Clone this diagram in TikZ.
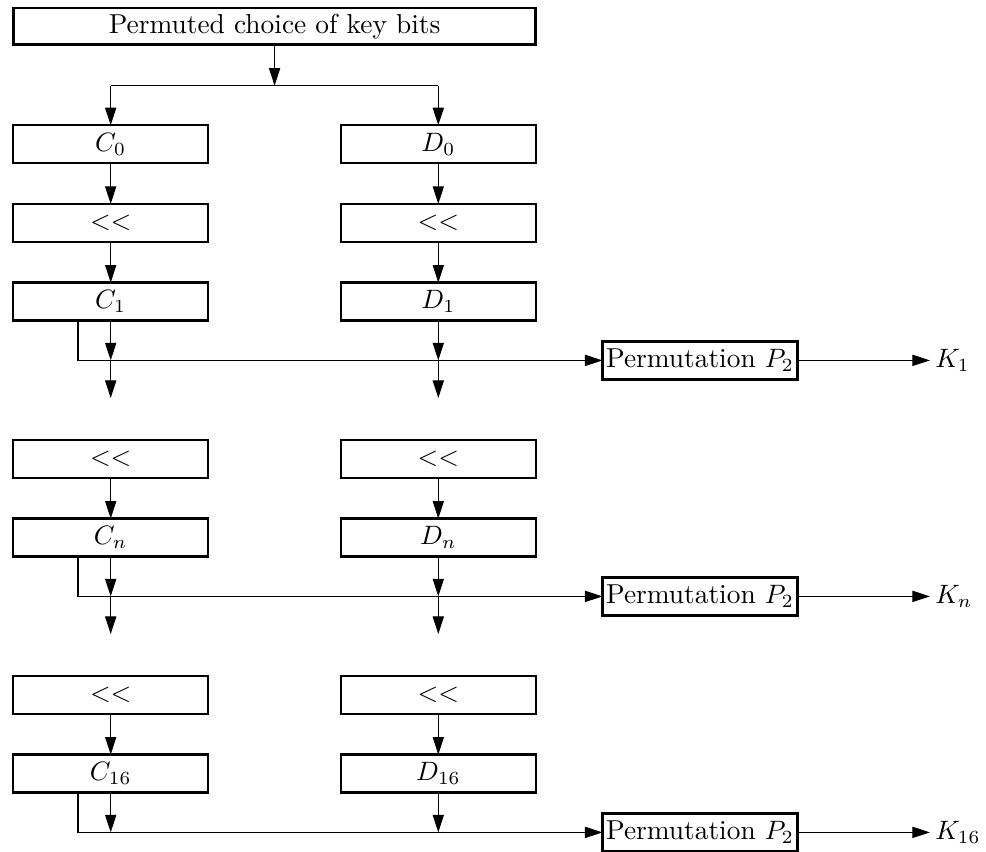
\documentclass[tikz,border=0pt]{standalone}
\usetikzlibrary{arrows.meta}
\begin{document}
\begin{tikzpicture}[x=0.376pt, y=-0.376pt,
  every node/.style={font=\fontsize{10.3pt}{12pt}\selectfont},
  blk/.style={draw, line width=0.9pt, inner sep=0pt, outer sep=0pt,
              minimum width=73.3pt, minimum height=14.3pt},
  arr/.style={line width=0.4pt, -{Triangle[length=6.6pt,width=4.2pt]}},
  lnk/.style={line width=0.4pt},
  klabel/.style={anchor=west, inner xsep=2pt, inner ysep=0pt, outer sep=0pt}]
\useasboundingbox (0,0) rectangle (986,852);

% key permutation and split into the two halves
\node[blk, minimum width=196.3pt, minimum height=13.9pt] (top) at (274.6,26.2) {Permuted choice of key bits};
\coordinate (split) at (274.6,85.7);
\coordinate (sL) at (110.7,85.7);
\coordinate (sR) at (438.3,85.7);
\node[blk] (C0) at (110.7,144.2) {$C_0$};
\node[blk] (D0) at (438.3,144.2) {$D_0$};
\draw[arr] (top) -- (split);
\draw[lnk] (sL) -- (sR);
\draw[arr] (sL) -- (C0);
\draw[arr] (sR) -- (D0);

% rounds: shift, new halves, permutation P2 giving the subkey
\foreach \g/\s/\dy in {1/1/0, 2/n/236, 3/16/472} {
  \node[blk] (SL\g) at (110.7,222.9+\dy) {$<<$};
  \node[blk] (SR\g) at (438.3,222.9+\dy) {$<<$};
  \node[blk] (C\g) at (110.7,301.6+\dy) {$C_{\s}$};
  \node[blk] (D\g) at (438.3,301.6+\dy) {$D_{\s}$};
  \node[blk] (P\g) at (700,360.4+\dy) {Permutation $P_2$};
  \node[klabel] (K\g) at (930,360.4+\dy) {$K_{\s}$};
  \coordinate (b\g) at (78,360.4+\dy);
  \coordinate (jL\g) at (110.7,360.4+\dy);
  \coordinate (jR\g) at (438.3,360.4+\dy);
  \draw[arr] (SL\g) -- (C\g);
  \draw[arr] (SR\g) -- (D\g);
  \draw[arr] (C\g) -- (jL\g);
  \draw[arr] (D\g) -- (jR\g);
  \draw[arr] (b\g |- C\g.south) -- (b\g) -- (P\g);
  \draw[arr] (P\g) -- (K\g);
  \ifnum\g<3
    \coordinate (eL\g) at (110.7,398+\dy);
    \coordinate (eR\g) at (438.3,398+\dy);
    \draw[arr] (jL\g) -- (eL\g);
    \draw[arr] (jR\g) -- (eR\g);
  \fi
}
\draw[arr] (C0) -- (SL1);
\draw[arr] (D0) -- (SR1);
\end{tikzpicture}
\end{document}
